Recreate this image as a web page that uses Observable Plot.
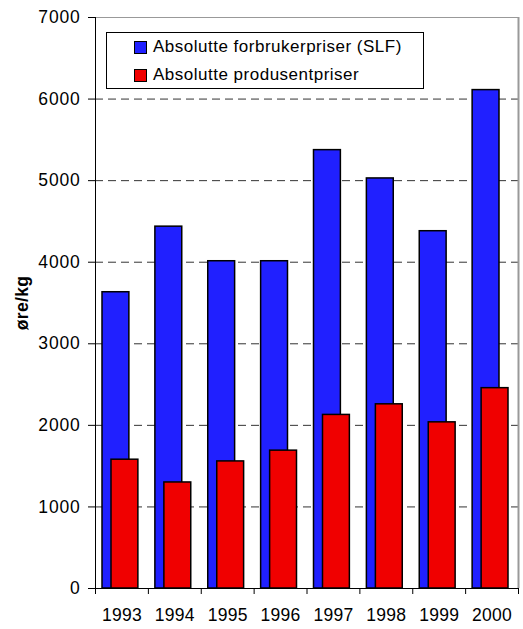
<!DOCTYPE html>
<html>
<head>
<meta charset="utf-8">
<script src="https://cdn.jsdelivr.net/npm/d3@7"></script>
<script src="https://cdn.jsdelivr.net/npm/@observablehq/plot@0.6"></script>
<style>
  html, body { margin: 0; padding: 0; background: #fff; }
  #wrap { position: relative; width: 523px; height: 629px; font-family: "Liberation Sans", Arial, sans-serif; }
  #legend { position: absolute; left: 106px; top: 32px; width: 318px; height: 57px; border: 1px solid #000; background: #fff; box-sizing: border-box; font-size: 17px; letter-spacing: 0.5px; color: #000; }
  #legend .row { position: absolute; left: 27px; display: flex; align-items: center; white-space: nowrap; }
  #legend .sw { width: 11px; height: 11px; border: 1px solid #000; margin-right: 6px; }
  g[aria-label="y-axis label"] text { font-weight: bold; font-size: 17.5px; letter-spacing: 0.3px; }
  g[aria-label="y-axis tick label"] text { font-size: 17.5px; letter-spacing: 0.8px; }
  g[aria-label="x-axis tick label"] text { font-size: 17.5px; letter-spacing: 0.3px; }
</style>
</head>
<body>
<div id="wrap">
  <div id="chart"></div>
  <div id="legend"></div>
</div>
<script>
const years = [1993, 1994, 1995, 1996, 1997, 1998, 1999, 2000];
const consumerPrices = [3632, 4436, 4012, 4012, 5374, 5027, 4380, 6110];
const producerPrices = [1579, 1300, 1558, 1690, 2128, 2258, 2037, 2456];
const seriesNames = ["Absolutte forbrukerpriser (SLF)", "Absolutte produsentpriser"];
const seriesColors = ["#2020ff", "#f00000"];
const yTicks = [0, 1000, 2000, 3000, 4000, 5000, 6000, 7000];
const gridTicks = [1000, 2000, 3000, 4000, 5000, 6000];
const yLabel = "øre/kg";

const consumer = years.map((y, i) => ({year: y, value: consumerPrices[i]}));
const producer = years.map((y, i) => ({year: y, value: producerPrices[i]}));
const xMin = years[0] - 0.5, xMax = years[years.length - 1] + 0.5;
const bounds = d3.range(xMin, xMax + 0.01, 1);

const chart = Plot.plot({
  width: 523,
  height: 629,
  marginLeft: 95,
  marginRight: 5,
  marginTop: 17,
  marginBottom: 41,
  style: {fontFamily: '"Liberation Sans", Arial, sans-serif', color: "#000", background: "#fff"},
  x: {type: "linear", domain: [xMin, xMax]},
  y: {domain: [0, 7000]},
  marks: [
    Plot.ruleY(gridTicks, {stroke: "#333", strokeDasharray: "8,5", strokeWidth: 1}),
    Plot.rectY(consumer, {x1: d => d.year - 0.5, x2: d => d.year + 0.5, y: "value", fill: seriesColors[0], stroke: "#000", strokeWidth: 1.5, insetLeft: 7, insetRight: 19}),
    Plot.rectY(producer, {x1: d => d.year - 0.5, x2: d => d.year + 0.5, y: "value", fill: seriesColors[1], stroke: "#000", strokeWidth: 1.5, insetLeft: 16, insetRight: 10}),
    Plot.ruleY([7000], {stroke: "#999", strokeWidth: 1}),
    Plot.ruleX([xMax], {stroke: "#999", strokeWidth: 2}),
    Plot.ruleX([xMin], {stroke: "#000", strokeWidth: 1}),
    Plot.ruleY([0], {stroke: "#000", strokeWidth: 1}),
    Plot.axisY({ticks: yTicks, tickSize: 7, tickPadding: 8, label: yLabel, labelAnchor: "center", labelArrow: "none", labelOffset: 80, tickFormat: d => String(d)}),
    Plot.axisX({ticks: bounds, tickSize: 6, tickFormat: () => "", label: null}),
    Plot.axisX({ticks: years, tickSize: 0, tickPadding: 20, tickFormat: d => String(d), label: null})
  ]
});
document.getElementById("chart").appendChild(chart);

const legend = document.getElementById("legend");
seriesNames.forEach((name, i) => {
  const row = document.createElement("div");
  row.className = "row";
  row.style.top = (i === 0 ? 4 : 32) + "px";
  const sw = document.createElement("div");
  sw.className = "sw";
  sw.style.background = seriesColors[i];
  const t = document.createElement("span");
  t.textContent = name;
  row.appendChild(sw);
  row.appendChild(t);
  legend.appendChild(row);
});
</script>
</body>
</html>
